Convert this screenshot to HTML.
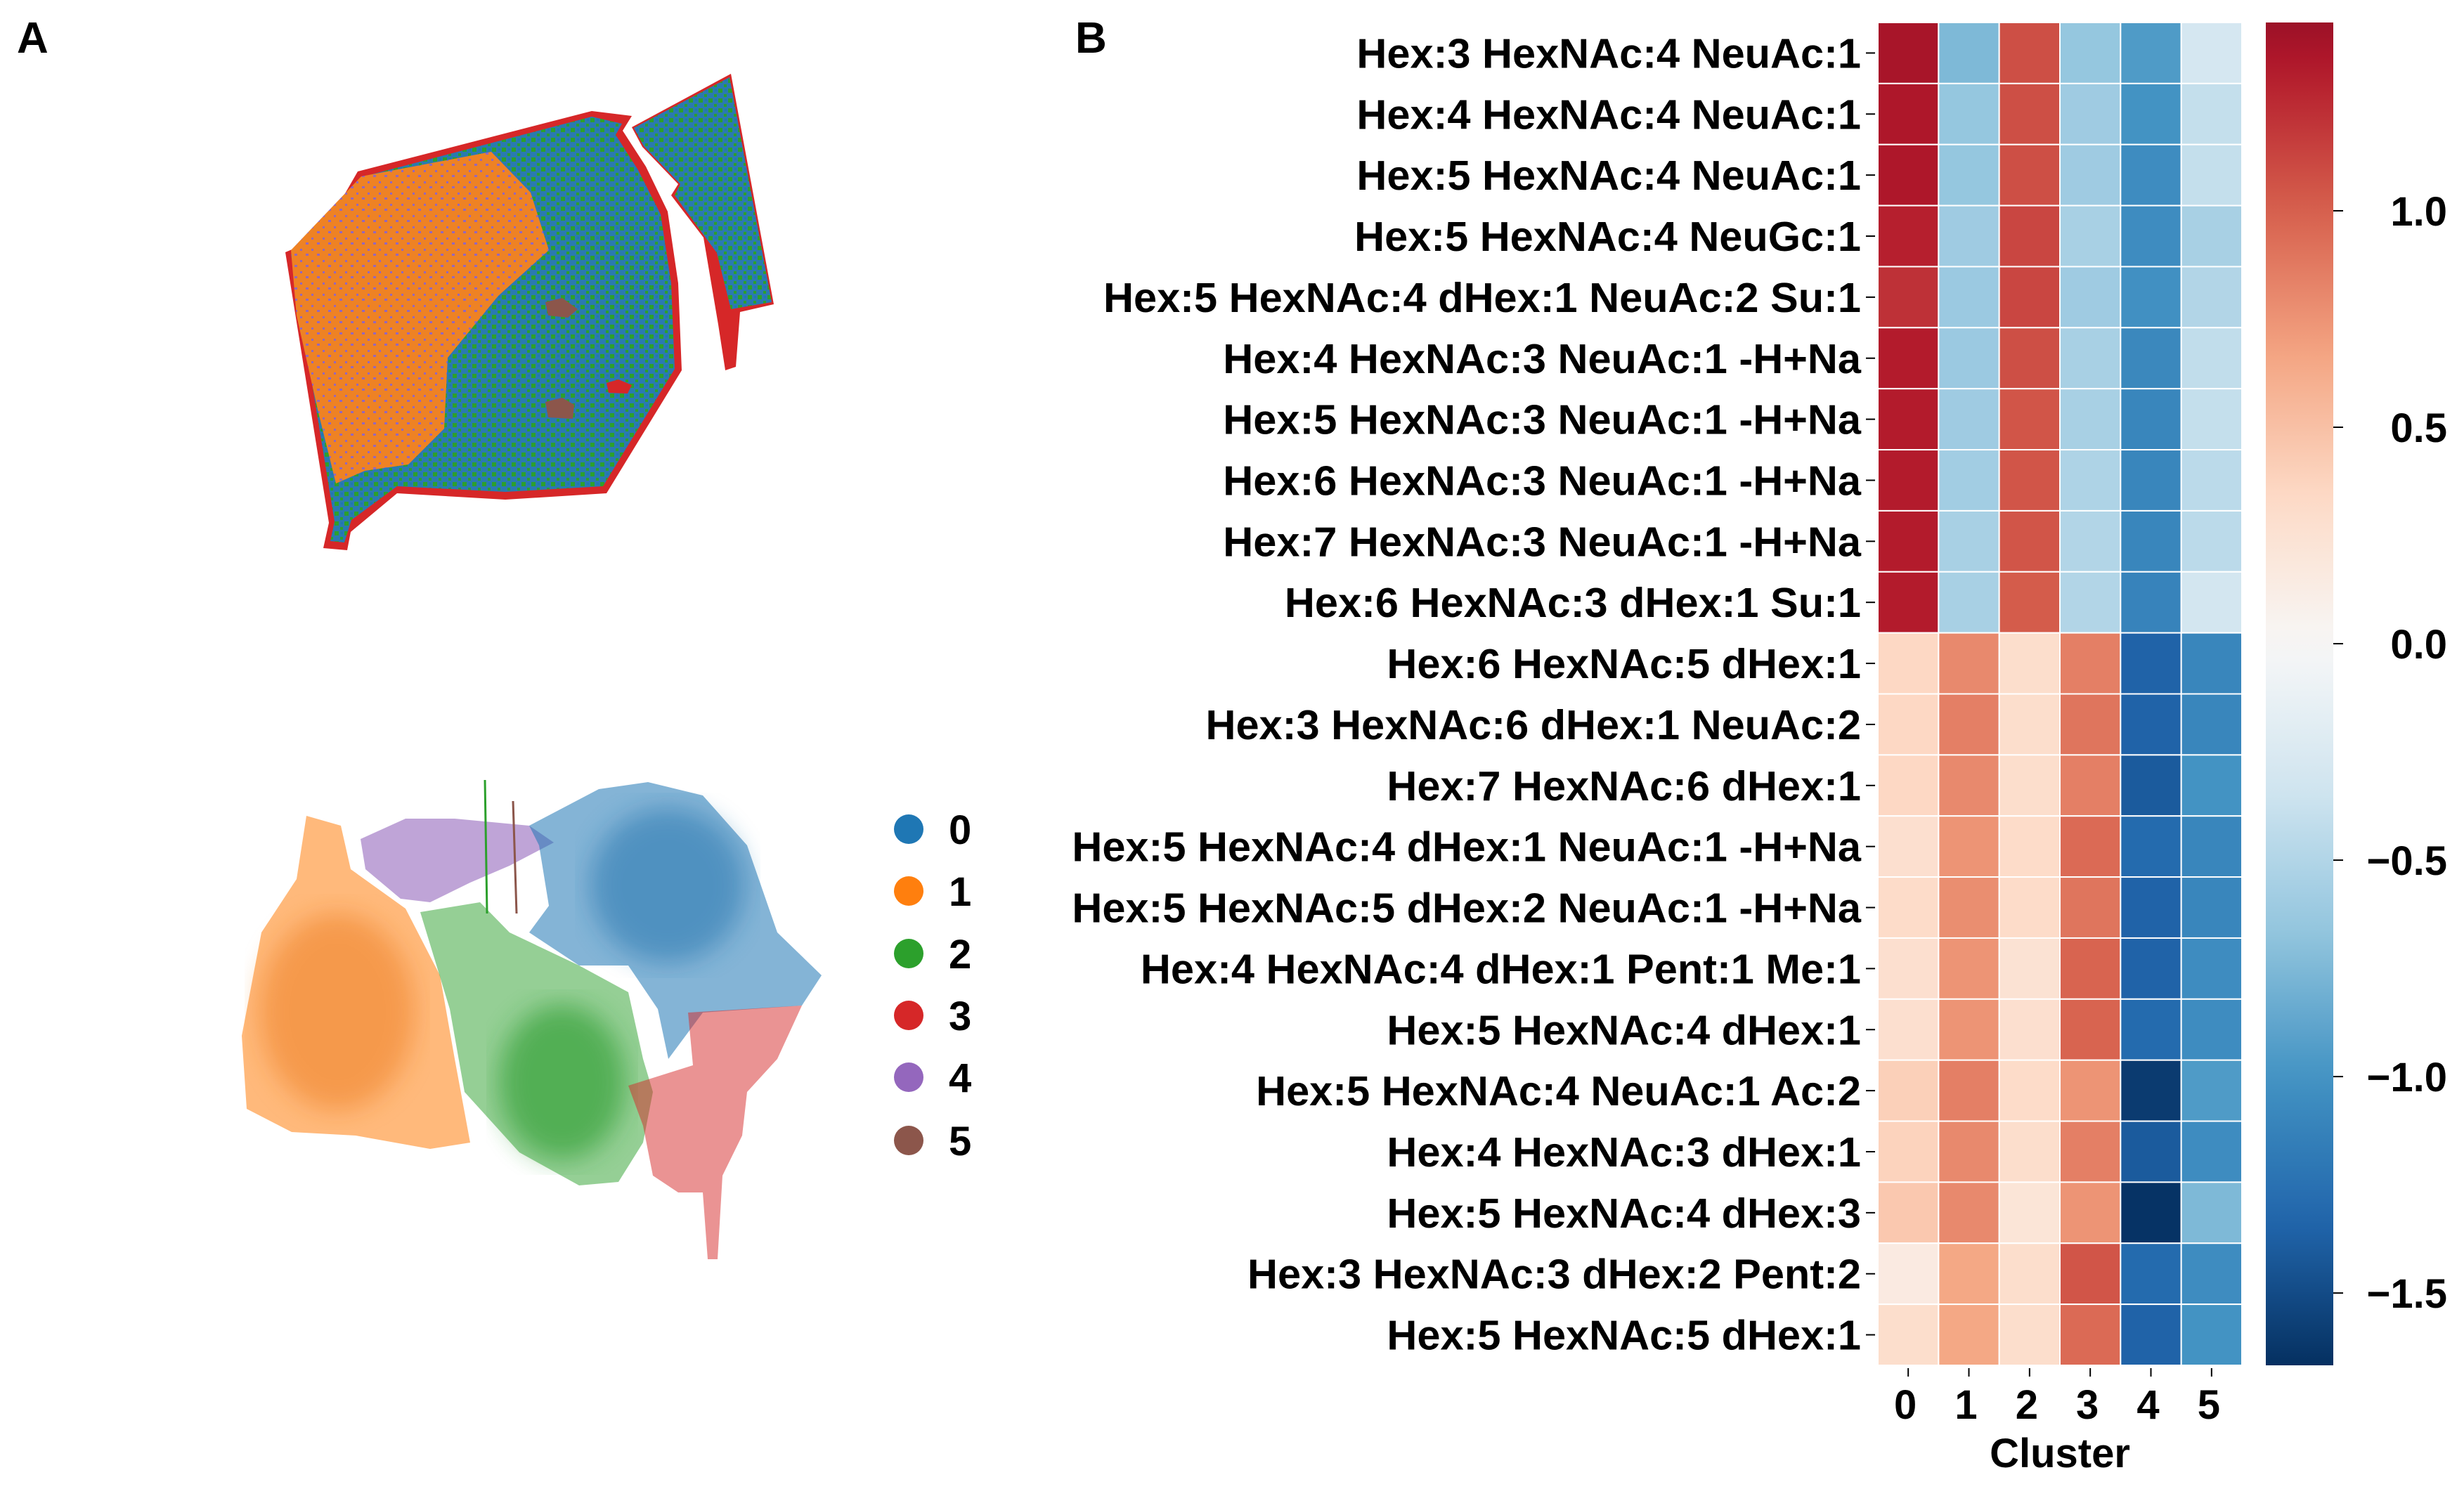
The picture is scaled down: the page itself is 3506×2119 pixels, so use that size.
<!DOCTYPE html>
<html><head><meta charset="utf-8"><style>
html,body{margin:0;padding:0;background:#fff;}
svg{display:block;font-family:"Liberation Sans",Arial,sans-serif;font-weight:bold;}
</style></head><body>
<svg id="fig" width="3506" height="2119" viewBox="0 0 3506 2119" xmlns="http://www.w3.org/2000/svg">
<defs>
<pattern id="bg" width="14" height="14" patternUnits="userSpaceOnUse">
<rect width="14" height="14" fill="#2a7ab0"/>
<rect x="0" y="0" width="6" height="6" fill="#2ca02c"/>
<rect x="8" y="8" width="4" height="4" fill="#2ca02c"/>
<rect x="9" y="1" width="3" height="3" fill="#1f77b4"/>
</pattern>
<pattern id="op" width="16" height="16" patternUnits="userSpaceOnUse">
<rect width="16" height="16" fill="#ee8224"/>
<rect x="3" y="9" width="4" height="3" fill="#9467bd"/>
<rect x="11" y="2" width="3" height="3" fill="#9467bd"/>
</pattern>
<filter id="soft"><feGaussianBlur stdDeviation="18"/></filter>
<linearGradient id="cbgrad" x1="0" y1="0" x2="0" y2="1"></linearGradient>
</defs>

<text x="24" y="75" font-size="62">A</text>
<text x="1530" y="75" font-size="62">B</text>

<g>
<polygon fill="#d62728" points="406,359 455,338 509,244 842,158 899,165 886,186 919,237 950,301 965,403 970,527 863,702 719,711 565,702 499,757 494,783 460,780 468,744"/>
<polygon fill="url(#bg)" points="414,362 460,345 514,252 842,166 885,176 876,192 908,242 940,305 955,403 960,525 858,692 719,700 565,692 500,740 490,772 470,770 476,742"/>
<polygon fill="url(#op)" points="414,356 514,251 699,216 755,274 781,356 709,421 637,509 632,610 581,661 519,670 478,688 453,587 422,449"/>
<polygon fill="#8c564b" points="776,430 800,424 822,440 808,452 780,449"/>
<polygon fill="#8c564b" points="776,572 800,566 817,576 815,596 780,594"/>
<polygon fill="#d62728" points="863,545 880,540 899,548 893,560 866,559"/>
<polygon fill="#d62728" points="899,181 1040,105 1101,433 1053,444 1047,522 1032,527 1022,462 1001,338 955,278 965,262 914,209"/>
<polygon fill="url(#bg)" points="902,182 1038,110 1098,430 1040,440 1020,360 960,278 968,262 916,208"/>
</g>

<g>
<polygon fill="#ff7f0e" opacity="0.55" points="351,1578 344,1474 372,1327 422,1251 436,1161 485,1175 499,1237 577,1293 626,1388 647,1507 669,1626 612,1635 506,1616 415,1611"/>
<ellipse cx="480" cy="1440" rx="110" ry="140" fill="#ec7a1c" opacity="0.5" filter="url(#soft)"/>
<polygon fill="#9467bd" opacity="0.6" points="513,1194 577,1165 647,1165 753,1175 788,1199 725,1232 669,1256 612,1284 570,1279 520,1237"/>
<polygon fill="#1f77b4" opacity="0.55" points="753,1175 852,1123 922,1113 1000,1132 1063,1203 1106,1327 1169,1388 1141,1431 1000,1441 951,1507 936,1436 894,1374 824,1374 753,1327 781,1289 767,1203"/>
<ellipse cx="950" cy="1260" rx="110" ry="110" fill="#1f6fab" opacity="0.5" filter="url(#soft)"/>
<polygon fill="#2ca02c" opacity="0.5" points="598,1298 683,1284 725,1327 824,1374 894,1412 915,1507 929,1554 915,1626 880,1682 824,1687 739,1640 661,1554 640,1436"/>
<ellipse cx="800" cy="1540" rx="90" ry="110" fill="#289a2a" opacity="0.6" filter="url(#soft)"/>
<polygon fill="#d62728" opacity="0.5" points="979,1441 1141,1431 1106,1507 1063,1554 1056,1616 1028,1673 1021,1792 1007,1792 1000,1697 965,1697 929,1673 915,1602 894,1545 986,1516"/>
<line x1="690" y1="1110" x2="693" y2="1300" stroke="#2ca02c" stroke-width="3"/>
<line x1="730" y1="1140" x2="735" y2="1300" stroke="#8c564b" stroke-width="3"/>
</g>

<g>
<circle cx="1293" cy="1180" r="21" fill="#1f77b4"/>
<circle cx="1293" cy="1268" r="21" fill="#ff7f0e"/>
<circle cx="1293" cy="1357" r="21" fill="#2ca02c"/>
<circle cx="1293" cy="1445" r="21" fill="#d62728"/>
<circle cx="1293" cy="1533" r="21" fill="#9467bd"/>
<circle cx="1293" cy="1623" r="21" fill="#8c564b"/>
<g font-size="58">
<text x="1350" y="1201">0</text>
<text x="1350" y="1289">1</text>
<text x="1350" y="1378">2</text>
<text x="1350" y="1466">3</text>
<text x="1350" y="1554">4</text>
<text x="1350" y="1644">5</text>
</g>
</g>

<g id="heat"></g>
<g id="cbar"></g>
</svg>
<script>
const rowLabels = ["Hex:3 HexNAc:4 NeuAc:1","Hex:4 HexNAc:4 NeuAc:1","Hex:5 HexNAc:4 NeuAc:1","Hex:5 HexNAc:4 NeuGc:1","Hex:5 HexNAc:4 dHex:1 NeuAc:2 Su:1","Hex:4 HexNAc:3 NeuAc:1 -H+Na","Hex:5 HexNAc:3 NeuAc:1 -H+Na","Hex:6 HexNAc:3 NeuAc:1 -H+Na","Hex:7 HexNAc:3 NeuAc:1 -H+Na","Hex:6 HexNAc:3 dHex:1 Su:1","Hex:6 HexNAc:5 dHex:1","Hex:3 HexNAc:6 dHex:1 NeuAc:2","Hex:7 HexNAc:6 dHex:1","Hex:5 HexNAc:4 dHex:1 NeuAc:1 -H+Na","Hex:5 HexNAc:5 dHex:2 NeuAc:1 -H+Na","Hex:4 HexNAc:4 dHex:1 Pent:1 Me:1","Hex:5 HexNAc:4 dHex:1","Hex:5 HexNAc:4 NeuAc:1 Ac:2","Hex:4 HexNAc:3 dHex:1","Hex:5 HexNAc:4 dHex:3","Hex:3 HexNAc:3 dHex:2 Pent:2","Hex:5 HexNAc:5 dHex:1"];
const clusters = ["0","1","2","3","4","5"];
const values = [
[1.38,-0.75,1.08,-0.65,-0.95,-0.30],
[1.35,-0.65,1.08,-0.60,-1.00,-0.40],
[1.35,-0.65,1.08,-0.60,-1.05,-0.40],
[1.30,-0.60,1.12,-0.55,-1.05,-0.55],
[1.22,-0.62,1.12,-0.60,-1.02,-0.50],
[1.32,-0.62,1.08,-0.55,-1.08,-0.42],
[1.32,-0.60,1.05,-0.55,-1.10,-0.40],
[1.32,-0.58,1.05,-0.52,-1.10,-0.45],
[1.32,-0.55,1.05,-0.50,-1.10,-0.45],
[1.32,-0.55,1.02,-0.50,-1.12,-0.32],
[0.35,0.80,0.30,0.85,-1.35,-1.10],
[0.35,0.85,0.30,0.90,-1.35,-1.10],
[0.35,0.80,0.30,0.85,-1.40,-1.00],
[0.28,0.75,0.32,0.95,-1.30,-1.10],
[0.32,0.78,0.32,0.90,-1.35,-1.10],
[0.28,0.75,0.25,0.98,-1.35,-1.05],
[0.28,0.75,0.28,0.98,-1.30,-1.05],
[0.40,0.85,0.32,0.75,-1.60,-0.95],
[0.38,0.80,0.30,0.85,-1.40,-1.05],
[0.45,0.80,0.22,0.75,-1.65,-0.75],
[0.15,0.65,0.30,1.05,-1.30,-1.05],
[0.30,0.65,0.30,0.95,-1.35,-1.00]];
const cbTicks = [1.0,0.5,0.0,-0.5,-1.0,-1.5];
const cbTickLabels = ["1.0","0.5","0.0","\u22120.5","\u22121.0","\u22121.5"];
const vmin = -1.667, vmax = 1.435;

const NS="http://www.w3.org/2000/svg";
const stops=["#053061","#2166ac","#4393c3","#92c5de","#d1e5f0","#f7f7f7","#fddbc7","#f4a582","#d6604d","#b2182b","#67001f"];
function hex(c){return [1,3,5].map(i=>parseInt(c.substr(i,2),16));}
function cmap(t){t=Math.max(0,Math.min(1,t));const p=t*10,i=Math.min(9,Math.floor(p)),f=p-i;const a=hex(stops[i]),b=hex(stops[i+1]);return "rgb("+a.map((v,k)=>Math.round(v+(b[k]-v)*f)).join(",")+")";}
const vr=Math.max(-vmin,vmax);
function color(v){return cmap((v+vr)/(2*vr));}
const X0=2672,X1=3190,Y0=32,Y1=1943;
const cw=(X1-X0)/clusters.length, rh=(Y1-Y0)/rowLabels.length;
function xPos(j){return X0+j*cw;}
function yPos(i){return Y0+i*rh;}
function mk(tag,attrs,parent){const e=document.createElementNS(NS,tag);for(const k in attrs)e.setAttribute(k,attrs[k]);parent.appendChild(e);return e;}
const heat=document.getElementById('heat');
values.forEach((row,i)=>{
  row.forEach((v,j)=>{
    const r=mk('rect',{x:xPos(j),y:yPos(i),width:cw,height:rh,fill:color(v),stroke:'#fff','stroke-width':2},heat);
    
    
  });
  const t=mk('text',{x:2648,y:yPos(i)+rh/2+21,'text-anchor':'end','font-size':59.5},heat);
  t.textContent=rowLabels[i];
  
  
  const tk=mk('line',{x1:2655,x2:2668,y1:yPos(i)+rh/2,y2:yPos(i)+rh/2,stroke:'#000','stroke-width':2},heat);
  
  
});
clusters.forEach((c,j)=>{
  const cx=xPos(j)+cw/2;
  const tk=mk('line',{x1:cx,x2:cx,y1:Y1+4,y2:Y1+16,stroke:'#000','stroke-width':2},heat);
  
  
  const t=mk('text',{x:cx-4,y:2019,'text-anchor':'middle','font-size':58},heat);
  t.textContent=c;
  
  
});
const xt=mk('text',{x:(X0+X1)/2,y:2088,'text-anchor':'middle','font-size':58},heat);
xt.textContent="Cluster";



const CX0=3224,CX1=3320;
const grad=document.getElementById('cbgrad');
for(let k=0;k<=40;k++){const v=vmax-(vmax-vmin)*k/40;mk('stop',{offset:(k/40),'stop-color':color(v)},grad);}
const cbar=document.getElementById('cbar');
const cr=mk('rect',{x:CX0,y:Y0,width:CX1-CX0,height:Y1-Y0,fill:'url(#cbgrad)'},cbar);


function cbY(v){return Y0+(vmax-v)/(vmax-vmin)*(Y1-Y0);}
cbTicks.forEach((v,k)=>{
  const y=cbY(v);
  const l=mk('line',{x1:CX1,x2:CX1+14,y1:y,y2:y,stroke:'#000','stroke-width':2},cbar);
  
  
  const t=mk('text',{x:3482,y:y+21,'text-anchor':'end','font-size':58},cbar);
  t.textContent=cbTickLabels[k];
  
  
});
</script>
</body></html>
